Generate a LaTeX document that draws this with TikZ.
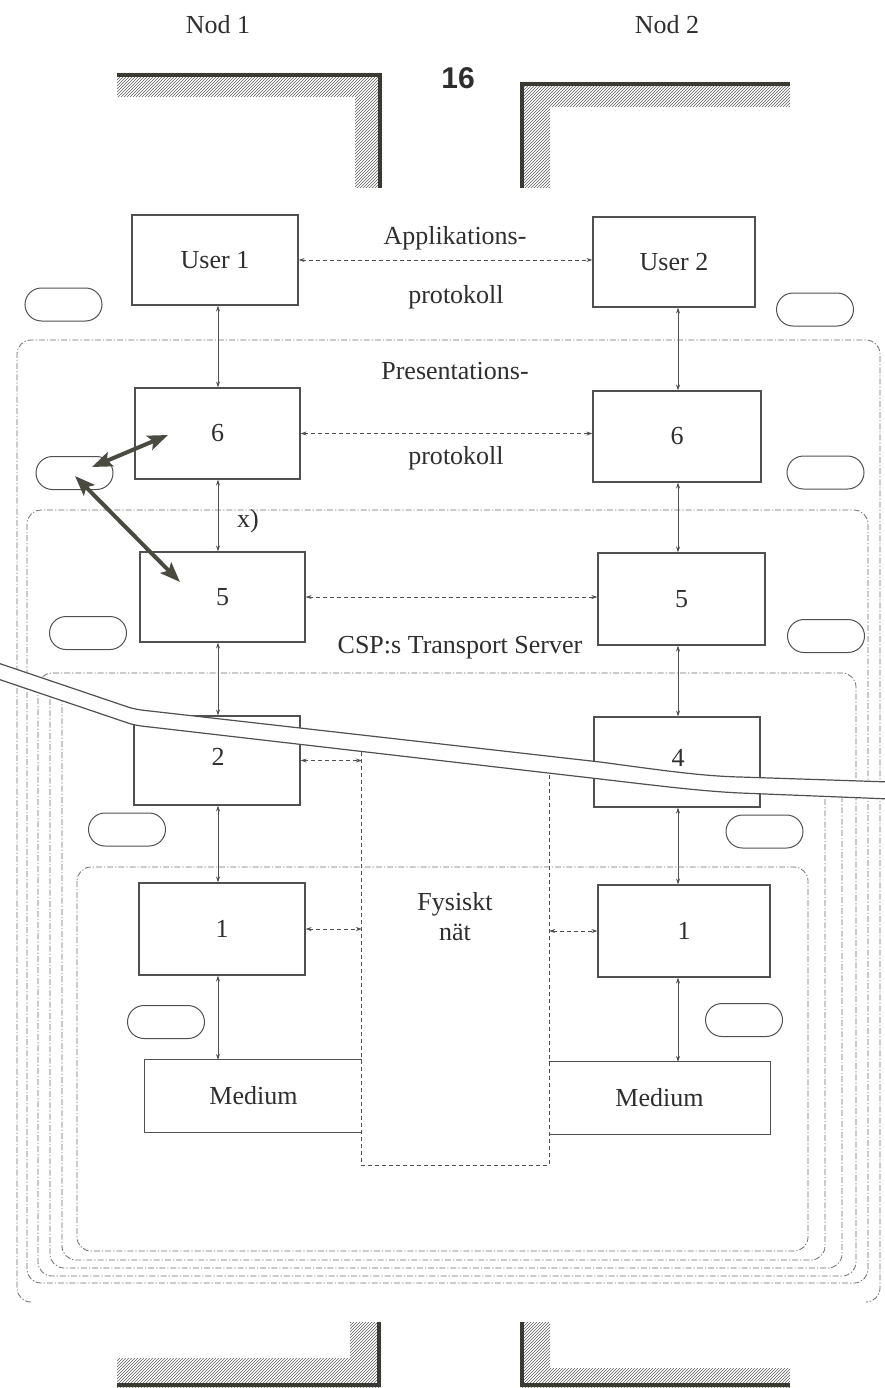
\documentclass[tikz,border=0pt]{standalone}
\usepackage{fontspec}
\setmainfont{Liberation Serif}
\newfontfamily\arialfont{Liberation Sans}
\usetikzlibrary{arrows.meta,patterns,shapes.misc,calc}
\definecolor{ink}{HTML}{2E2E2E}
\definecolor{edge}{HTML}{505050}
\definecolor{dark}{HTML}{3A3A32}
\definecolor{hatch}{HTML}{5E5E5E}
\definecolor{region}{HTML}{6E6E6E}
\definecolor{thickc}{HTML}{4A4A40}
\tikzset{
  every node/.style={font=\fontsize{26}{30}\selectfont, text=ink},
  boxnode/.style={draw=edge, line width=1.1pt, inner sep=0pt, minimum width=#1},
  boxnode/.default=166,
  plainnode/.style={inner sep=0pt},
  oval/.style={draw=edge, line width=1pt, rounded rectangle, minimum width=77, minimum height=33, inner sep=0pt},
  varrow/.style={draw=edge, line width=0.7pt, {Stealth[length=6pt,width=4pt]}-{Stealth[length=6pt,width=4pt]}},
  harrow/.style={draw=edge, line width=0.7pt, dash pattern=on 4pt off 3pt, {Stealth[length=6pt,width=4pt]}-{Stealth[length=6pt,width=4pt]}},
  fbox/.style={draw=edge, line width=0.8pt, dash pattern=on 4pt off 3pt},
  regionline/.style={draw=region, line width=0.8pt, dash pattern=on 6pt off 2pt on 1.2pt off 2pt, rounded corners=14},
  bigarrow/.style={draw=thickc, line width=4pt, {Stealth[length=20pt,width=15pt,inset=4pt]}-{Stealth[length=20pt,width=15pt,inset=4pt]}},
  hatchfill/.style={pattern=north east lines, pattern color=hatch},
  darkedge/.style={draw=dark, line width=4pt},
  bandline/.style={draw=edge, line width=1.2pt},
}
\begin{document}
\begin{tikzpicture}[x=1pt,y=-1pt]
\useasboundingbox (0,0) rectangle (885,1388);
\fill[white] (0,0) rectangle (885,1388);

% titles
\node[plainnode] (nod1) at (218,25) {Nod 1};
\node[plainnode] (nod2) at (667,25) {Nod 2};
\node[plainnode, font=\arialfont\bfseries\fontsize{30}{32}\selectfont] (pg) at (458,78) {16};

% hatched brackets
\fill[hatchfill] (117,73) -- (382,73) -- (382,188) -- (355,188) -- (355,97) -- (117,97) -- cycle;
\draw[darkedge] (117,75) -- (380,75) -- (380,188);
\fill[hatchfill] (520,82) -- (790,82) -- (790,107) -- (550,107) -- (550,188) -- (520,188) -- cycle;
\draw[darkedge] (522,188) -- (522,84) -- (790,84);
\fill[hatchfill] (350,1322) -- (381,1322) -- (381,1388) -- (117,1388) -- (117,1358) -- (350,1358) -- cycle;
\draw[darkedge] (379,1322) -- (379,1385) -- (117,1385);
\fill[hatchfill] (520,1322) -- (550,1322) -- (550,1368) -- (790,1368) -- (790,1388) -- (520,1388) -- cycle;
\draw[darkedge] (522,1322) -- (522,1385) -- (790,1385);

% nested dash-dot regions
\draw[regionline] (31,1302) -| (17,340) -| (880,1302) -- (866,1302);
\draw[regionline] (27,510) rectangle (868,1283);
\draw[regionline] (38,673) rectangle (856,1276);
\draw[regionline] (50,688) |- (842,1268) -- (842,785);
\draw[regionline] (62,696) |- (825,1260) -- (825,785);
\draw[regionline] (77,867) rectangle (808,1251);

% boxes
\node[boxnode, minimum height=90] (u1) at (215,260) {User 1};
\node[boxnode=162, minimum height=90] (u2) at (674,262) {User 2};
\node[boxnode=165, minimum height=91] (p1) at (217.5,433.5) {6};
\node[boxnode=168, minimum height=91] (p2) at (677,436.5) {6};
\node[boxnode=165, minimum height=90] (s1) at (222.5,597) {5};
\node[boxnode=167, minimum height=92] (s2) at (681.5,599) {5};
\node[boxnode, minimum height=89] (t1) at (217,760.5) {};
\node[boxnode, minimum height=90] (t2) at (677,762) {};
\node[boxnode, minimum height=92] (l1) at (222,929) {1};
\node[boxnode=172, minimum height=92] (l2) at (684,931) {1};
\node[plainnode, minimum width=217, minimum height=72] (m1) at (253.5,1096) {Medium};
\node[plainnode, minimum width=221, minimum height=72] (m2) at (659.5,1098) {Medium};
\draw[draw=edge, line width=1.1pt] (m1.north east) -- (m1.north west) -- (m1.south west) -- (m1.south east);
\draw[draw=edge, line width=1.1pt] (m2.north west) -- (m2.north east) -- (m2.south east) -- (m2.south west);

% physical network box
\node[plainnode, minimum width=187, minimum height=420] (f) at (455.5,955) {};
\draw[fbox] (f.north west) -- (f.south west) -- (f.south east) -- ($(f.north east)+(0,20)$);
\node[plainnode, align=center] (fn) at (455,917) {Fysiskt\\nät};

% vertical connectors
\coordinate (axL) at (218,0);
\coordinate (axR) at (678,0);
\draw[varrow] (u1.south -| axL) -- (p1.north -| axL);
\draw[varrow] (p1.south -| axL) -- (s1.north -| axL);
\draw[varrow] (s1.south -| axL) -- (t1.north -| axL);
\draw[varrow] (t1.south -| axL) -- (l1.north -| axL);
\draw[varrow] (l1.south -| axL) -- (m1.north -| axL);
\draw[varrow] (u2.south -| axR) -- (p2.north -| axR);
\draw[varrow] (p2.south -| axR) -- (s2.north -| axR);
\draw[varrow] (s2.south -| axR) -- (t2.north -| axR);
\draw[varrow] (t2.south -| axR) -- (l2.north -| axR);
\draw[varrow] (l2.south -| axR) -- (m2.north -| axR);

% horizontal dashed connectors
\draw[harrow] (u1.east) -- (u1.east -| u2.west);
\draw[harrow] (p1.east) -- (p1.east -| p2.west);
\draw[harrow] (s1.east) -- (s1.east -| s2.west);
\draw[harrow] (t1.east) -- (t1.east -| f.west);
\draw[harrow] (f.east |- t2.west) -- (t2.west);
\draw[harrow] (l1.east) -- (l1.east -| f.west);
\draw[harrow] (f.east |- l2.west) -- (l2.west);

% labels
\node[plainnode] (la1) at (455,238) {Applikations-};
\node[plainnode] (la2) at (456,297) {protokoll};
\node[plainnode] (lp1) at (455,371) {Presentations-};
\node[plainnode] (lp2) at (456,458) {protokoll};
\node[plainnode] (lcsp) at (460,648) {CSP:s Transport Server};
\node[plainnode] (lx) at (248,521) {x)};

% ovals
\node[oval] (o1l) at (63.5,304.5) {};
\node[oval] (o1r) at (815,309.5) {};
\node[oval] (o2l) at (74.5,473) {};
\node[oval] (o2r) at (825.5,472.5) {};
\node[oval] (o3l) at (88,633) {};
\node[oval] (o3r) at (826,636) {};
\node[oval] (o4l) at (127,829.5) {};
\node[oval] (o4r) at (764.5,831.5) {};
\node[oval] (o5l) at (166,1022) {};
\node[oval] (o5r) at (744,1020) {};

% thick arrows
\coordinate (k1) at (92,467);
\coordinate (k2) at (168,435);
\coordinate (k3) at (75,476);
\coordinate (k4) at (180,582);
\draw[bigarrow] (k1) -- (k2);
\draw[bigarrow] (k3) -- (k4);

% band
\fill[white] (-5,662) -- (125,706) .. controls (133,709) and (140,710) .. (150,711) -- (600,762) .. controls (660,770) and (700,776) .. (740,777) -- (890,782) -- (890,799) -- (740,793) .. controls (700,791) and (660,786) .. (600,779) -- (150,727) .. controls (140,726) and (133,725) .. (125,722) -- (-5,678) -- cycle;
\draw[bandline] (-5,662) -- (125,706) .. controls (133,709) and (140,710) .. (150,711) -- (600,762) .. controls (660,770) and (700,776) .. (740,777) -- (890,782);
\draw[bandline] (-5,678) -- (125,722) .. controls (133,725) and (140,726) .. (150,727) -- (600,779) .. controls (660,786) and (700,791) .. (740,793) -- (890,799);

% numbers on boxes crossed by the band
\node[plainnode] (n2) at (218,757) {2};
\node[plainnode] (n4) at (678,758) {4};
\end{tikzpicture}
\end{document}
